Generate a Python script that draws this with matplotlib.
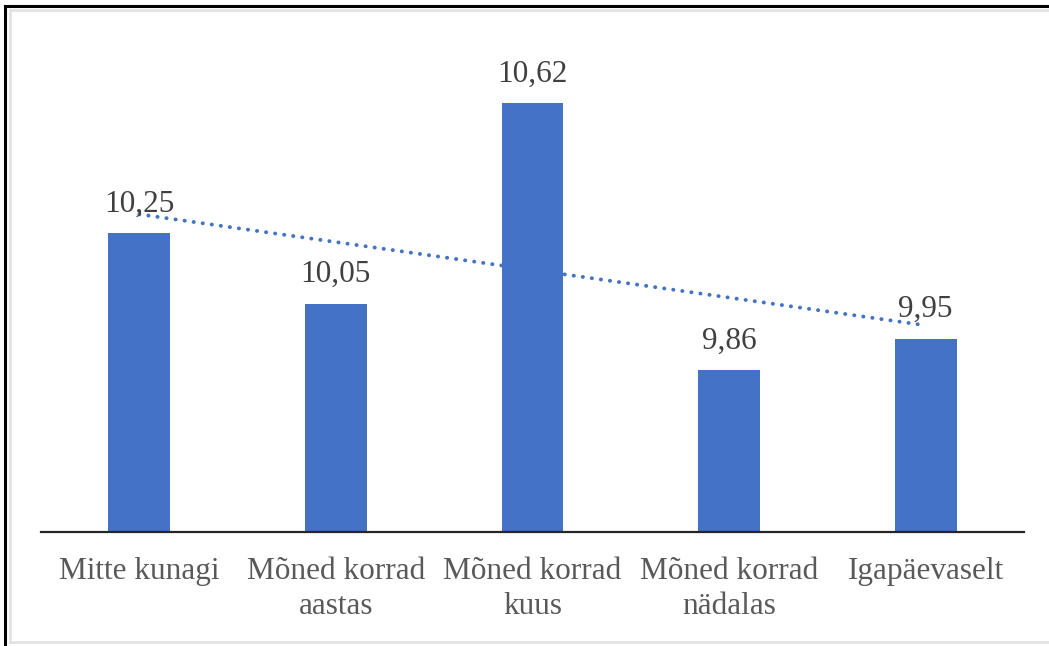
import numpy as np
import matplotlib
matplotlib.use("Agg")
import matplotlib.pyplot as plt
from matplotlib.lines import Line2D

categories = ["Mitte kunagi", "Mõned korrad\naastas", "Mõned korrad\nkuus",
              "Mõned korrad\nnädalas", "Igapäevaselt"]
values = [10.25, 10.05, 10.62, 9.86, 9.95]
value_labels = ["10,25", "10,05", "10,62", "9,86", "9,95"]

BAR_COLOR = "#4472C4"
plt.rcParams["font.family"] = ["Liberation Serif", "DejaVu Serif"]

W, H = 1049, 646
fig = plt.figure(figsize=(W / 100, H / 100), dpi=100)

# outer frame: dark edge top/left, light inner border
fig.add_artist(Line2D([5 / W, 1], [1 - 6 / H, 1 - 6 / H], color="black", lw=2.2,
                      transform=fig.transFigure))
fig.add_artist(Line2D([5 / W, 5 / W], [0, 1 - 6 / H], color="black", lw=2.2,
                      transform=fig.transFigure))
fig.add_artist(Line2D([10 / W, 1], [1 - 10 / H, 1 - 10 / H], color="#e3e3e3", lw=2,
                      transform=fig.transFigure))
fig.add_artist(Line2D([10 / W, 10 / W], [4 / H, 1 - 10 / H], color="#e3e3e3", lw=2,
                      transform=fig.transFigure))
fig.add_artist(Line2D([10 / W, 1], [4 / H, 4 / H], color="#e3e3e3", lw=2,
                      transform=fig.transFigure))

ax = fig.add_axes([41 / W, (H - 532) / H, (1024 - 41) / W, (532 - 40) / H])
x = np.arange(len(categories))
ax.bar(x, values, width=0.315, color=BAR_COLOR, zorder=2)

# linear trend line
coef = np.polyfit(x, values, 1)
ax.plot(x[[0, -1]], np.polyval(coef, x[[0, -1]]), color=BAR_COLOR, lw=2.8,
        linestyle=(0, (0.05, 2.3)), dash_capstyle="round", zorder=3)

for xi, v, lab in zip(x, values, value_labels):
    ax.annotate(lab, (xi, v), xytext=(0, 10.5), textcoords="offset points",
                ha="center", va="bottom", fontsize=22.5, color="#404040", zorder=4)

ax.set_xlim(-0.5, len(categories) - 0.5)
ax.set_ylim(9.4, 10.8)
ax.set_xticks(x)
ax.set_xticklabels(categories, fontsize=22.5, color="#595959", linespacing=1.28)
ax.tick_params(axis="x", length=0, pad=18)
ax.set_yticks([])
for s in ["top", "left", "right"]:
    ax.spines[s].set_visible(False)
ax.spines["bottom"].set_color("#262626")
ax.spines["bottom"].set_linewidth(1.6)
ax.patch.set_alpha(0)

fig.savefig("out.png", dpi=100)
